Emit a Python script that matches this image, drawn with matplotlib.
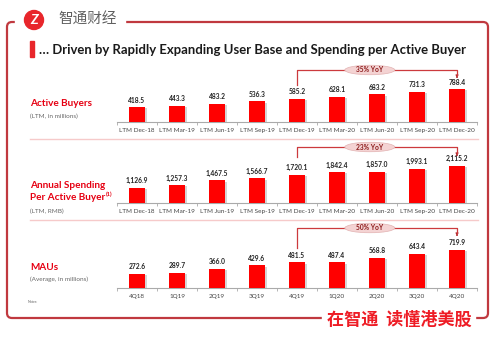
import matplotlib
matplotlib.use("Agg")
from matplotlib import pyplot as plt
from matplotlib import patches
from matplotlib import patheffects
from matplotlib.transforms import Affine2D, blended_transform_factory

# data
ltm_labels = ['LTM Dec-18', 'LTM Mar-19', 'LTM Jun-19', 'LTM Sep-19', 'LTM Dec-19',
              'LTM Mar-20', 'LTM Jun-20', 'LTM Sep-20', 'LTM Dec-20']
quarter_labels = ['4Q18', '1Q19', '2Q19', '3Q19', '4Q19', '1Q20', '2Q20', '3Q20', '4Q20']
active_buyers = [418.5, 443.3, 483.2, 536.3, 585.2, 628.1, 683.2, 731.3, 788.4]
spending = [1126.9, 1257.3, 1467.5, 1566.7, 1720.1, 1842.4, 1857.0, 1993.1, 2115.2]
maus = [272.6, 289.7, 366.0, 429.6, 481.5, 487.4, 568.8, 643.4, 719.9]
yoy = ['35% YoY', '23% YoY', '50% YoY']

W, H = 501, 340
RED = '#ff0000'
LABEL_RED = '#e60012'
FRAME = '#c0393f'
LATIN = ['Lato', 'DejaVu Sans']
CJK = ['Noto Sans CJK SC', 'DejaVu Sans']

plt.rcParams['font.family'] = LATIN

fig = plt.figure(figsize=(W / 100, H / 100), dpi=100)
fig.patch.set_facecolor('white')
# pixel coords, y measured from the top
pxT = Affine2D().scale(1 / W, -1 / H).translate(0, 1) + fig.transFigure

# frame
frame = patches.FancyBboxPatch((7, 22), 481, 296, boxstyle='round,pad=0,rounding_size=5',
                               transform=pxT, fill=False, edgecolor=FRAME, lw=1.6, zorder=1)
fig.add_artist(frame)
fig.add_artist(patches.Rectangle((15, 18), 110, 8, transform=pxT, color='white', zorder=2))
fig.add_artist(patches.Rectangle((322, 314), 153, 8, transform=pxT, color='white', zorder=2))

# logo
fig.add_artist(patches.Circle((34, 20), 9.5, transform=pxT, color='#e8262b', zorder=3))
fig.text(34, 20.5, 'Z', transform=pxT, color='white', fontsize=10, fontweight='bold',
         style='italic', ha='center', va='center', zorder=4)
fig.text(58, 20, '智通财经', transform=pxT, family=CJK, color='#606060', fontsize=10.5,
         ha='left', va='center', zorder=4)

# title
fig.add_artist(patches.Rectangle((30, 41), 4.5, 16, transform=pxT, color='#e8262b', zorder=3))
fig.text(39, 49.5, '… Driven by Rapidly Expanding User Base and Spending per Active Buyer',
         transform=pxT, fontsize=9.45, fontweight='bold', color='#1a1a1a', ha='left', va='center')

# slogan
fig.text(399, 320, '在智通  读懂港美股', transform=pxT, family=CJK, color='#ee1c25',
         fontsize=12.3, fontweight='heavy', ha='center', va='center', zorder=4)

# separators
for sy in [139, 220]:
    fig.add_artist(plt.Line2D([30, 478], [sy, sy], transform=pxT, color='#f6caca', lw=1))

fig.text(28, 302, 'Notes:', transform=pxT, fontsize=2.5, color='#666666', va='center')

panels = [
    # values, labels, baseline px, ybottom, px per unit, yoy y, left end, arrow end
    (active_buyers, ltm_labels, 122, 110, 0.0486, 70, 85, 78),
    (spending, ltm_labels, 203, 453, 0.0223, 147, 157, 156),
    (maus, quarter_labels, 288, 0, 0.053, 228, 248, 236),
]

for i, (vals, labels, base, v0, scale, yy, ly, ay) in enumerate(panels):
    ax = fig.add_axes([117 / W, 1 - base / H, 360 / W, 60 / H])
    x = list(range(len(vals)))
    bars = ax.bar(x, vals, width=0.4, color=RED, zorder=3)
    for b in bars:
        b.set_path_effects([patheffects.SimplePatchShadow(offset=(1.5, -1), shadow_rgbFace='#888888', alpha=0.35),
                            patheffects.Normal()])
    ax.set_xlim(-0.5, 8.5)
    ax.set_ylim(v0, v0 + 60 / scale)
    for xi, v in zip(x, vals):
        ax.annotate(f'{v:,.1f}', (xi, v), xytext=(0, 2.5), textcoords='offset points',
                    ha='center', va='bottom', fontsize=4.8, fontweight='bold', color='#222222')
    ax.set_xticks(x)
    ax.set_xticklabels(labels, fontsize=4.6, color='#444444')
    ax.set_xticks([k + 0.5 for k in range(-1, 9)], minor=True)
    ax.tick_params(axis='x', which='major', length=0, pad=4.3)
    ax.tick_params(axis='x', which='minor', length=2.5, color='#aaaaaa', width=0.6)
    ax.set_yticks([])
    for s in ['top', 'right', 'left']:
        ax.spines[s].set_visible(False)
    ax.spines['bottom'].set_color('#aaaaaa')
    ax.spines['bottom'].set_linewidth(0.8)
    ax.patch.set_alpha(0)

    # YoY bracket
    bt = blended_transform_factory(ax.transData, pxT)
    ax.plot([4, 4, 8, 8], [ly, yy, yy, ay - 3], transform=bt, color='#cc3a3d', lw=0.9,
            clip_on=False, zorder=4)
    ax.annotate('', xy=(8, ay), xycoords=bt, xytext=(8, ay - 3.5), textcoords=bt,
                arrowprops=dict(arrowstyle='-|>', color='#b01e23', lw=0.6,
                                mutation_scale=4), annotation_clip=False)
    ax.add_patch(patches.Ellipse((5.82, yy), 1.25, 9.5, transform=bt, facecolor='#f4d3d3',
                                 edgecolor='#e2b2b2', lw=0.5, clip_on=False, zorder=5))
    ax.text(5.82, yy, yoy[i], transform=bt, ha='center', va='center', fontsize=4.8,
            fontweight='bold', color='#8b1a1a', zorder=6)

# panel labels
fig.text(30, 104, 'Active Buyers', transform=pxT, color=LABEL_RED, fontsize=7.2,
         fontweight='bold', va='center')
fig.text(30, 116, '(LTM, in millions)', transform=pxT, color='#666666', fontsize=4.6, va='center')
fig.text(30, 186, 'Annual Spending', transform=pxT, color=LABEL_RED, fontsize=7.2,
         fontweight='bold', va='center')
t = fig.text(30, 198, 'Per Active Buyer', transform=pxT, color=LABEL_RED, fontsize=7.2,
             fontweight='bold', va='center')
fig.text(30, 211, '(LTM, RMB)', transform=pxT, color='#666666', fontsize=4.6, va='center')
fig.text(30, 267, 'MAUs', transform=pxT, color=LABEL_RED, fontsize=7.2,
         fontweight='bold', va='center')
fig.text(30, 279, '(Average, in millions)', transform=pxT, color='#666666', fontsize=4.6, va='center')
ax.annotate('(1)', xy=(1, 0.55), xycoords=t, xytext=(0.5, 0), textcoords='offset points',
            fontsize=4.2, fontweight='bold', color=LABEL_RED, va='bottom', annotation_clip=False)

fig.savefig('out.png', dpi=100, facecolor='white')
